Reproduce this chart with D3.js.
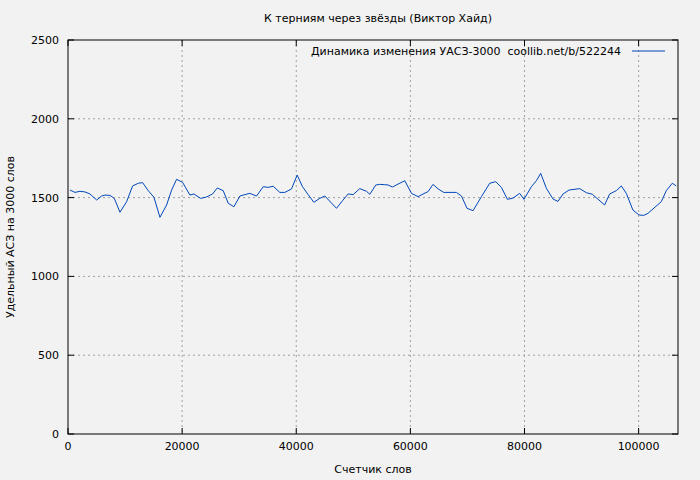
<!DOCTYPE html>
<html><head><meta charset="utf-8">
<script src="https://cdn.jsdelivr.net/npm/d3@7/dist/d3.min.js"></script>
<style>body{margin:0;background:#f2f2f2}svg{display:block;font-family:"DejaVu Sans",sans-serif}text{white-space:pre}</style>
</head><body><svg id="c" width="700" height="480"></svg>
<script>
const words=[350,1226,2102,2977,3853,5020,5896,6480,7355,8114,9107,10274,11325,12317,13075,14069,15061,16112,17279,18155,19030,20081,21366,22067,23235,24285,25336,26153,27204,28080,29072,30123,30998,31874,33042,34209,35085,35960,37128,38004,39172,40158,41100,42090,43082,44016,45009,47052,48102,49095,49970,51138,52306,52890,53940,54641,55517,56100,56865,57849,59019,60193,61349,62224,63100,63976,64852,65849,68073,68949,69930,70981,72453,73905,74956,75950,77000,77990,79159,79912,81200,82078,82837,83830,85000,85870,86760,87800,89670,90840,91890,94040,94920,96090,96970,97840,99000,100050,100880,101630,103970,104850,105900,106600];
const values=[1548,1533,1540,1536,1523,1485,1510,1516,1514,1495,1407,1474,1574,1591,1595,1544,1502,1375,1453,1548,1616,1597,1516,1523,1495,1504,1523,1561,1544,1464,1442,1510,1519,1527,1510,1569,1565,1572,1533,1533,1555,1643,1569,1519,1470,1493,1510,1432,1480,1523,1519,1557,1540,1521,1580,1584,1582,1580,1567,1586,1607,1527,1506,1523,1538,1584,1555,1533,1533,1510,1432,1417,1506,1591,1601,1565,1489,1497,1527,1489,1569,1607,1654,1559,1491,1476,1523,1548,1557,1531,1521,1453,1523,1544,1574,1527,1421,1390,1387,1400,1474,1544,1591,1574];
const xTicks=[0,20000,40000,60000,80000,100000];
const yTicks=[0,500,1000,1500,2000,2500];
const title="К терниям через звёзды (Виктор Хайд)";
const legend="Динамика изменения УАСЗ-3000  coollib.net/b/522244";
const svg=d3.select("#c");
const L=68,R=678,T=40,B=434;
const x=d3.scaleLinear().domain([0,106900]).range([L,R]);
const y=d3.scaleLinear().domain([0,2500]).range([B,T]);
const g=svg.append("g");
g.selectAll(".gx").data(xTicks.slice(1)).join("line").attr("x1",d=>x(d)).attr("x2",d=>x(d)).attr("y1",T).attr("y2",B).attr("stroke","#a0a0a0").attr("stroke-dasharray","2,3");
g.selectAll(".gy").data(yTicks.slice(1,-1)).join("line").attr("y1",d=>y(d)).attr("y2",d=>y(d)).attr("x1",L).attr("x2",R).attr("stroke","#a0a0a0").attr("stroke-dasharray","2,3");
xTicks.forEach(t=>{g.append("line").attr("x1",x(t)).attr("x2",x(t)).attr("y1",B).attr("y2",B-6).attr("stroke","#000");g.append("line").attr("x1",x(t)).attr("x2",x(t)).attr("y1",T).attr("y2",T+6).attr("stroke","#000");
 g.append("text").attr("x",x(t)).attr("y",B+16).attr("text-anchor","middle").attr("font-size",11).text(t);});
yTicks.forEach(t=>{g.append("line").attr("x1",L).attr("x2",L+6).attr("y1",y(t)).attr("y2",y(t)).attr("stroke","#000");g.append("line").attr("x1",R).attr("x2",R-6).attr("y1",y(t)).attr("y2",y(t)).attr("stroke","#000");
 g.append("text").attr("x",L-9).attr("y",y(t)+4).attr("text-anchor","end").attr("font-size",11).text(t);});
g.append("rect").attr("x",L).attr("y",T).attr("width",R-L).attr("height",B-T).attr("fill","none").attr("stroke","#000");
g.append("path").datum(words.map((w,i)=>[w,values[i]])).attr("d",d3.line().x(d=>x(d[0])).y(d=>y(d[1]))).attr("fill","none").attr("stroke","#0047bb").attr("stroke-width",1);
svg.append("text").attr("x",378).attr("y",22).attr("text-anchor","middle").attr("font-size",11).text(title);
svg.append("text").attr("x",373).attr("y",473).attr("text-anchor","middle").attr("font-size",11).text("Счетчик слов");
svg.append("text").attr("transform","translate(14,237) rotate(-90)").attr("text-anchor","middle").attr("font-size",11).text("Удельный АСЗ на 3000 слов");
svg.append("text").attr("x",621).attr("y",55).attr("text-anchor","end").attr("font-size",11).text(legend);
svg.append("line").attr("x1",632).attr("x2",665).attr("y1",51).attr("y2",51).attr("stroke","#0047bb");
</script></body></html>
